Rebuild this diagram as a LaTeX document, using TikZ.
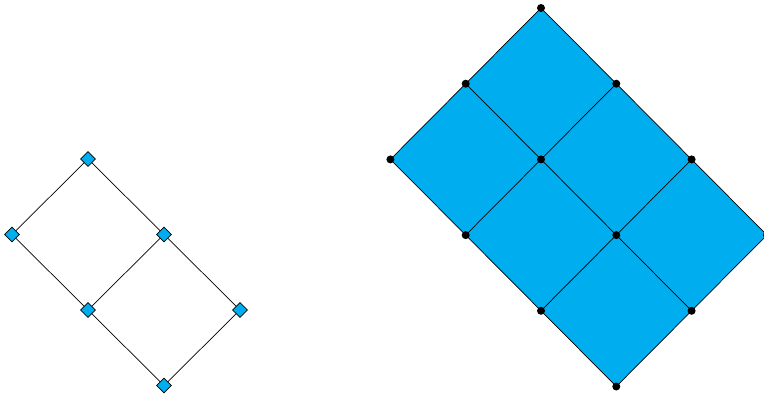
\documentclass[tikz,border=0pt]{standalone}
\usetikzlibrary{shapes.geometric}
\definecolor{cyanfill}{RGB}{0,174,239}
\begin{document}
\begin{tikzpicture}[x=1pt,y=-1pt,
  diam/.style={diamond,draw=black,fill=cyanfill,inner sep=0pt,minimum size=15pt,line width=0.6pt},
  vdot/.style={circle,fill=black,inner sep=0pt,minimum size=8pt},
  edgeline/.style={draw=black,line width=0.7pt},
  tile/.style={fill=cyanfill}]
\useasboundingbox (0,0) rectangle (764,399);
% left lattice
\foreach \i in {0,1}{\foreach \j in {0,1,2}{
  \coordinate (L\i\j) at ({88-76*\i+76*\j},{159+75.5*\i+75.5*\j});}}
\draw[edgeline] (L00) -- (L10);
\draw[edgeline] (L00) -- (L01);
\draw[edgeline] (L10) -- (L11);
\draw[edgeline] (L01) -- (L11);
\draw[edgeline] (L01) -- (L02);
\draw[edgeline] (L11) -- (L12);
\draw[edgeline] (L02) -- (L12);
\foreach \i in {0,1}{\foreach \j in {0,1,2}{
  \node[diam] (ml\i\j) at (L\i\j) {};}}
% right lattice
\foreach \i in {0,1,2}{\foreach \j in {0,1,2,3}{
  \coordinate (R\i\j) at ({541-75.3*\i+75.3*\j},{8+75.7*\i+75.7*\j});}}
\fill[tile] (R00) -- (R03) -- (R23) -- (R20) -- cycle;
\foreach \i in {0,1,2}{\draw[edgeline] (R\i0) -- (R\i3);}
\foreach \j in {0,1,2,3}{\draw[edgeline] (R0\j) -- (R2\j);}
\foreach \i in {0,1,2}{\foreach \j in {0,1,2,3}{
  \node[vdot] (mr\i\j) at (R\i\j) {};}}
\end{tikzpicture}
\end{document}
